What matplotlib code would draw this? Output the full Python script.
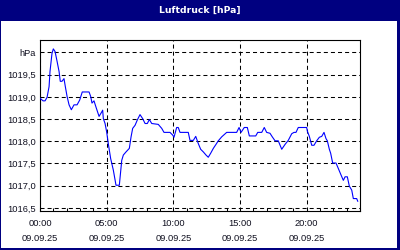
import matplotlib
matplotlib.use("Agg")
import matplotlib.pyplot as plt
from matplotlib.patches import Rectangle
from matplotlib.ticker import FixedLocator, MultipleLocator

# pressure readings, hours since 00:00 on 09.09.25
hours = [0.00, 0.23, 0.38, 0.53, 0.68, 0.75, 0.90, 1.00, 1.13, 1.28,
         1.43, 1.52, 1.65, 1.80, 1.90, 2.03, 2.18, 2.35, 2.55, 2.78,
         2.98, 3.17, 3.68, 3.80, 3.90, 4.05, 4.22, 4.43, 4.63, 4.70,
         4.75, 4.88, 5.00, 5.12, 5.30, 5.50, 5.70, 5.95, 6.13, 6.25,
         6.45, 6.70, 6.83, 6.95, 7.13, 7.30, 7.50, 7.70, 7.88, 8.05,
         8.20, 8.38, 8.87, 9.13, 9.30, 9.75, 9.95, 10.05, 10.25, 10.37,
         10.50, 11.12, 11.25, 11.50, 11.68, 11.87, 12.05, 12.25, 12.45, 12.62,
         12.80, 13.00, 13.20, 13.37, 13.63, 14.00, 14.75, 14.93, 15.08, 15.32,
         15.55, 15.70, 16.18, 16.33, 16.63, 16.82, 17.00, 17.25, 17.42, 17.63,
         17.87, 18.13, 18.38, 18.62, 18.88, 19.05, 19.20, 19.37, 20.00, 20.05,
         20.20, 20.38, 20.55, 20.75, 20.95, 21.13, 21.30, 21.45, 21.55, 21.70,
         21.80, 21.95, 22.20, 22.37, 22.55, 22.75, 22.88, 23.05, 23.20, 23.38,
         23.50, 23.75, 23.83]
hpa = [1018.97, 1018.91, 1018.91, 1018.99, 1019.23, 1019.57, 1019.98, 1020.08, 1020.02, 1019.80,
       1019.57, 1019.35, 1019.35, 1019.41, 1019.23, 1019.01, 1018.82, 1018.71, 1018.82, 1018.82,
       1018.93, 1019.11, 1019.11, 1019.01, 1018.86, 1018.91, 1018.75, 1018.56, 1018.66, 1018.70,
       1018.51, 1018.40, 1018.21, 1017.95, 1017.61, 1017.35, 1017.01, 1017.01, 1017.57, 1017.69,
       1017.76, 1017.84, 1018.10, 1018.29, 1018.36, 1018.48, 1018.60, 1018.51, 1018.40, 1018.40,
       1018.49, 1018.40, 1018.38, 1018.29, 1018.20, 1018.20, 1018.14, 1018.09, 1018.31, 1018.31,
       1018.20, 1018.20, 1018.02, 1018.02, 1018.11, 1017.95, 1017.82, 1017.76, 1017.69, 1017.64,
       1017.73, 1017.84, 1017.93, 1018.01, 1018.10, 1018.20, 1018.20, 1018.31, 1018.20, 1018.31,
       1018.31, 1018.12, 1018.12, 1018.20, 1018.20, 1018.31, 1018.20, 1018.18, 1018.10, 1018.01,
       1018.01, 1017.82, 1017.93, 1018.02, 1018.17, 1018.20, 1018.20, 1018.31, 1018.31, 1018.23,
       1018.11, 1017.91, 1017.91, 1018.01, 1018.09, 1018.11, 1018.20, 1018.06, 1018.01, 1017.82,
       1017.73, 1017.51, 1017.51, 1017.39, 1017.26, 1017.12, 1017.20, 1017.20, 1016.99, 1016.90,
       1016.71, 1016.71, 1016.65]

y_ticks = [1016.5, 1017.0, 1017.5, 1018.0, 1018.5, 1019.0, 1019.5, 1020.0]
y_labels = ["1016,5", "1017,0", "1017,5", "1018,0", "1018,5", "1019,0", "1019,5", "hPa"]
x_ticks = [0, 5, 10, 15, 20]
x_labels = ["00:00\n09.09.25", "05:00\n09.09.25", "10:00\n09.09.25",
            "15:00\n09.09.25", "20:00\n09.09.25"]

navy = "#000080"
plt.rcParams["lines.scale_dashes"] = False

fig = plt.figure(figsize=(4, 2.5), dpi=100, facecolor=navy)
# white panel inside the navy frame
fig.patches.append(Rectangle((1 / 400, 2 / 250), 396 / 400, 227 / 250,
                             transform=fig.transFigure, facecolor="white",
                             edgecolor="none", zorder=-1))
fig.text(0.5, 0.958, "Luftdruck [hPa]", color="white", ha="center", va="center",
         fontsize=6.7, fontweight="bold", family="DejaVu Sans")

ax = fig.add_axes([40 / 400, 39 / 250, 320 / 400, 171 / 250])
ax.set_zorder(1)
ax.set_facecolor("white")
ax.plot(hours, hpa, color="#0000ff", lw=0.8, zorder=3)

ax.set_xlim(0, 24)
ax.set_ylim(1016.43, 1020.28)

ax.yaxis.set_major_locator(FixedLocator(y_ticks))
ax.set_yticklabels(y_labels)
ax.xaxis.set_major_locator(FixedLocator(x_ticks))
ax.set_xticklabels(x_labels, linespacing=1.75)
ax.xaxis.set_minor_locator(MultipleLocator(1))

ax.grid(True, which="major", color="black", lw=0.75, linestyle=(0, (2.9, 2.2)))
ax.tick_params(axis="y", length=0, pad=3, labelsize=6.7, labelcolor="#101020")
ax.tick_params(axis="x", which="both", direction="in", length=2, width=0.75,
               pad=6, labelsize=6.7, labelcolor="#101020")
for lab in ax.get_xticklabels() + ax.get_yticklabels():
    lab.set_family("Liberation Sans")
for s in ax.spines.values():
    s.set_linewidth(0.8)
    s.set_color("black")

fig.savefig("out.png", dpi=100, facecolor=navy)
